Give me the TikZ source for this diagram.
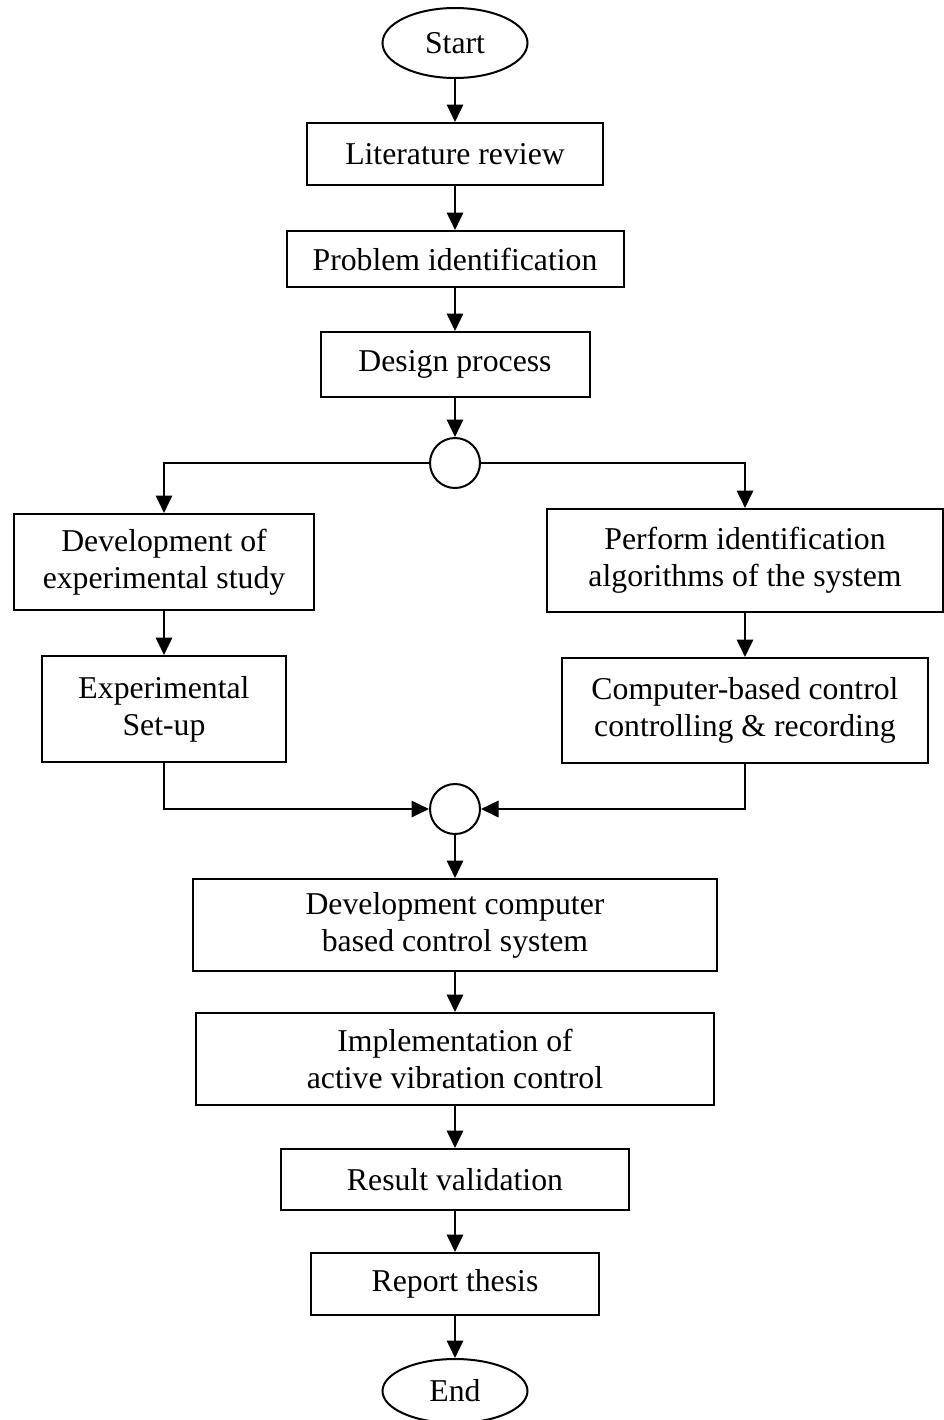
\documentclass[tikz,border=0pt]{standalone}
\usepackage{fontspec}
\setmainfont{Liberation Serif}
\usepackage{tikz}
\usetikzlibrary{arrows.meta, shapes.geometric, positioning}

\tikzset{
  box/.style={draw, line width=0.8pt, align=center, inner sep=2pt,
    font=\fontsize{12.7}{14.8}\selectfont},
  term/.style={draw, ellipse, line width=0.8pt, inner sep=0pt,
    font=\fontsize{12.7}{14.8}\selectfont},
  junction/.style={draw, circle, line width=0.8pt, minimum size=20pt, inner sep=0pt},
  arr/.style={line width=1pt, -{Triangle[length=7pt, width=6.5pt]}}
}

\begin{document}
\begin{tikzpicture}[x=0.4pt, y=-0.4pt]
\useasboundingbox (0,0) rectangle (943,1420);

% main column
\node[term, minimum width=58pt, minimum height=28pt] (start) at (455,43) {Start};
\node[box, minimum width=118.4pt, minimum height=24.8pt] (lit) at (455,154) {Literature review};
\node[box, minimum width=134.8pt, minimum height=22.4pt] (prob) at (455,259) {Problem identification};
\node[box, minimum width=107.6pt, minimum height=26pt] (design) at (455,364.5) {Design process};
\node[junction] (split) at (455,463) {};

% left branch
\node[box, minimum width=120pt, minimum height=38.4pt] (devexp) at (164,562) {Development of\\experimental study};
\node[box, minimum width=97.2pt, minimum height=42.4pt] (setup) at (164,709) {Experimental\\Set-up};

% right branch
\node[box, minimum width=158.4pt, minimum height=41.2pt] (perf) at (745,560.5) {Perform identification\\algorithms of the system};
\node[box, minimum width=146.4pt, minimum height=42pt] (comp) at (745,710.5) {Computer-based control\\controlling \& recording};

% merge and rest
\node[junction] (merge) at (455,809) {};
\node[box, minimum width=209.2pt, minimum height=36.8pt] (devcomp) at (455,925) {Development computer\\based control system};
\node[box, minimum width=206.8pt, minimum height=36.8pt] (impl) at (455,1059) {Implementation of\\active vibration control};
\node[box, minimum width=139.2pt, minimum height=24.4pt] (result) at (455,1179.5) {Result validation};
\node[box, minimum width=115.2pt, minimum height=24.8pt] (report) at (455,1284) {Report thesis};
\node[term, minimum width=58pt, minimum height=25.6pt] (end) at (455,1391) {End};

% connectors
\draw[arr] (start) -- (lit);
\draw[arr] (lit) -- (prob);
\draw[arr] (prob) -- (design);
\draw[arr] (design) -- (split);
\draw[arr] (split.west) -| (devexp.north);
\draw[arr] (split.east) -| (perf.north);
\draw[arr] (devexp) -- (setup);
\draw[arr] (perf) -- (comp);
\draw[arr] (setup.south) |- (merge.west);
\draw[arr] (comp.south) |- (merge.east);
\draw[arr] (merge) -- (devcomp);
\draw[arr] (devcomp) -- (impl);
\draw[arr] (impl) -- (result);
\draw[arr] (result) -- (report);
\draw[arr] (report) -- (end);
\end{tikzpicture}
\end{document}
